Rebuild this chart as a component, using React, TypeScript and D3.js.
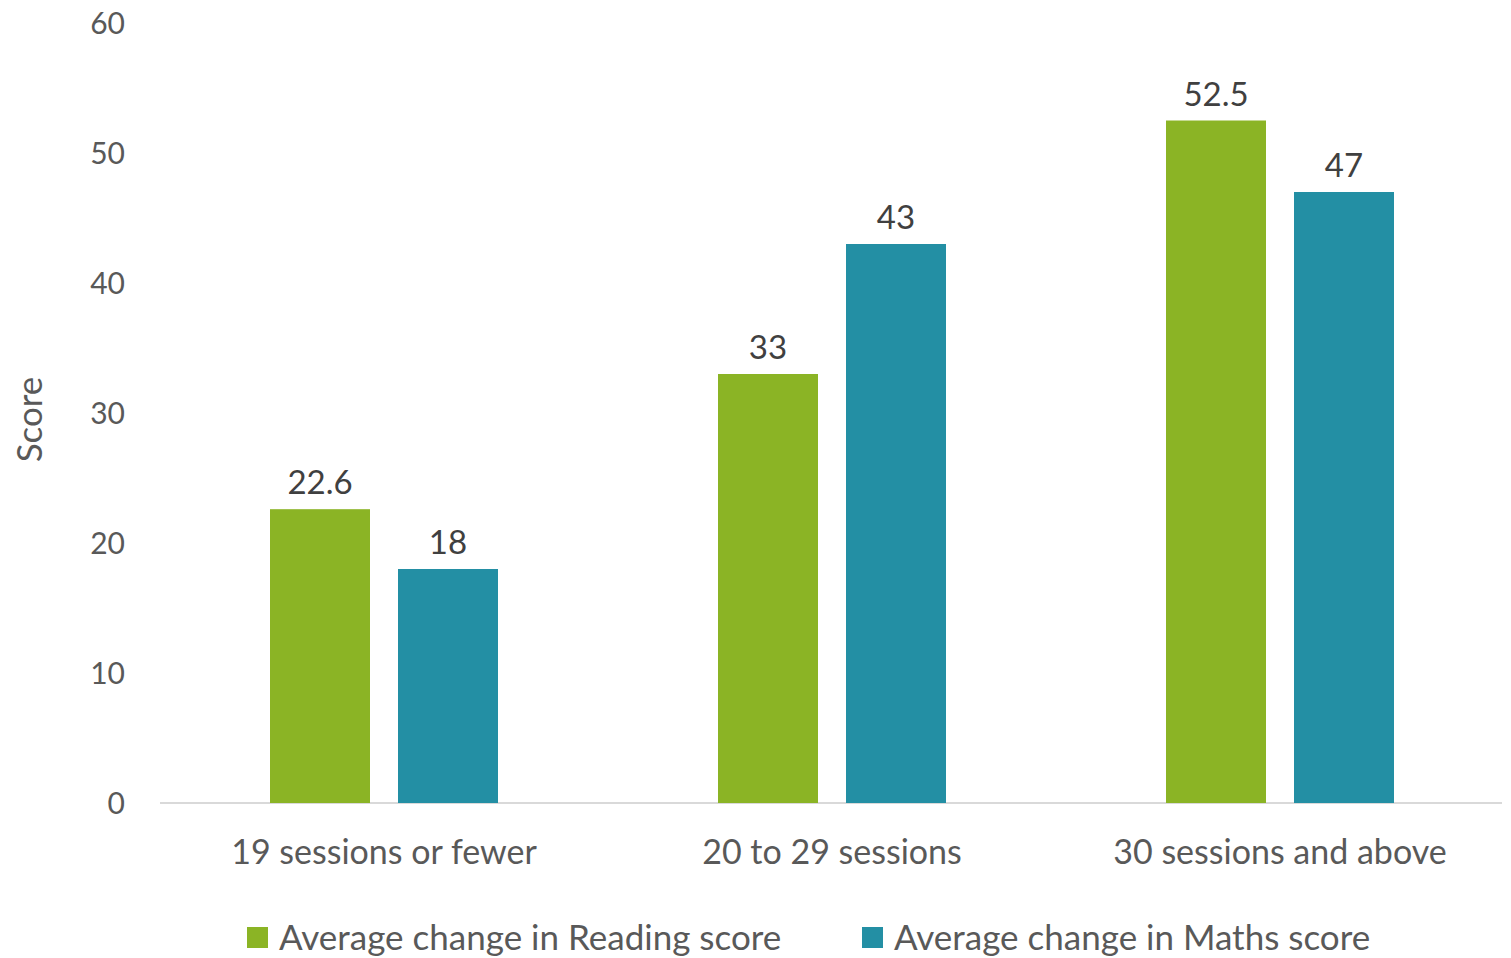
import React from "react";
import * as d3 from "d3";

const categories = ["19 sessions or fewer", "20 to 29 sessions", "30 sessions and above"];
const seriesNames = ["Average change in Reading score", "Average change in Maths score"];
const readingValues = [22.6, 33, 52.5];
const mathsValues = [18, 43, 47];
const yTicks = [0, 10, 20, 30, 40, 50, 60];
const colors = ["#8BB425", "#238FA4"];

const W = 1511;
const H = 958;
const FONT = "Lato, 'Open Sans', sans-serif";

export default function App() {
  const x = d3.scaleBand<string>().domain(categories).range([160, 1504]).paddingInner(0).paddingOuter(0);
  const y = d3.scaleLinear().domain([0, 60]).range([803, 23]);
  const barW = 100;
  const gap = 28;
  const series = [readingValues, mathsValues];

  return (
    <svg width={W} height={H} style={{ position: "absolute", left: 0, top: 0, background: "#fff" }} fontFamily={FONT}>
      {yTicks.map((t) => (
        <text key={t} x={125} y={y(t)} dy="0.35em" textAnchor="end" fontSize={30} fill="#595959">
          {t}
        </text>
      ))}
      <text transform={`translate(30,${y(29.5)}) rotate(-90)`} dy="0.35em" textAnchor="middle" fontSize={35} fill="#595959">
        Score
      </text>
      <line x1={160} x2={1502} y1={y(0)} y2={y(0)} stroke="#D9D9D9" strokeWidth={2} />
      {categories.map((c, i) => {
        const cx = (x(c) as number) + x.bandwidth() / 2;
        return (
          <g key={c}>
            {series.map((vals, s) => {
              const bx = cx - gap / 2 - barW + s * (barW + gap);
              return (
                <g key={s}>
                  <rect x={bx} y={y(vals[i])} width={barW} height={y(0) - y(vals[i])} fill={colors[s]} />
                  <text x={bx + barW / 2} y={y(vals[i]) - 15} textAnchor="middle" fontSize={33} fill="#404040">
                    {vals[i]}
                  </text>
                </g>
              );
            })}
            <text x={cx} y={852} dy="0.35em" textAnchor="middle" fontSize={34} fill="#595959">
              {c}
            </text>
          </g>
        );
      })}
      {seriesNames.map((n, s) => {
        const lx = s === 0 ? 247 : 862;
        return (
          <g key={n}>
            <rect x={lx} y={927} width={21} height={21} fill={colors[s]} />
            <text x={lx + 32} y={938} dy="0.35em" fontSize={35} fill="#595959">
              {n}
            </text>
          </g>
        );
      })}
    </svg>
  );
}
